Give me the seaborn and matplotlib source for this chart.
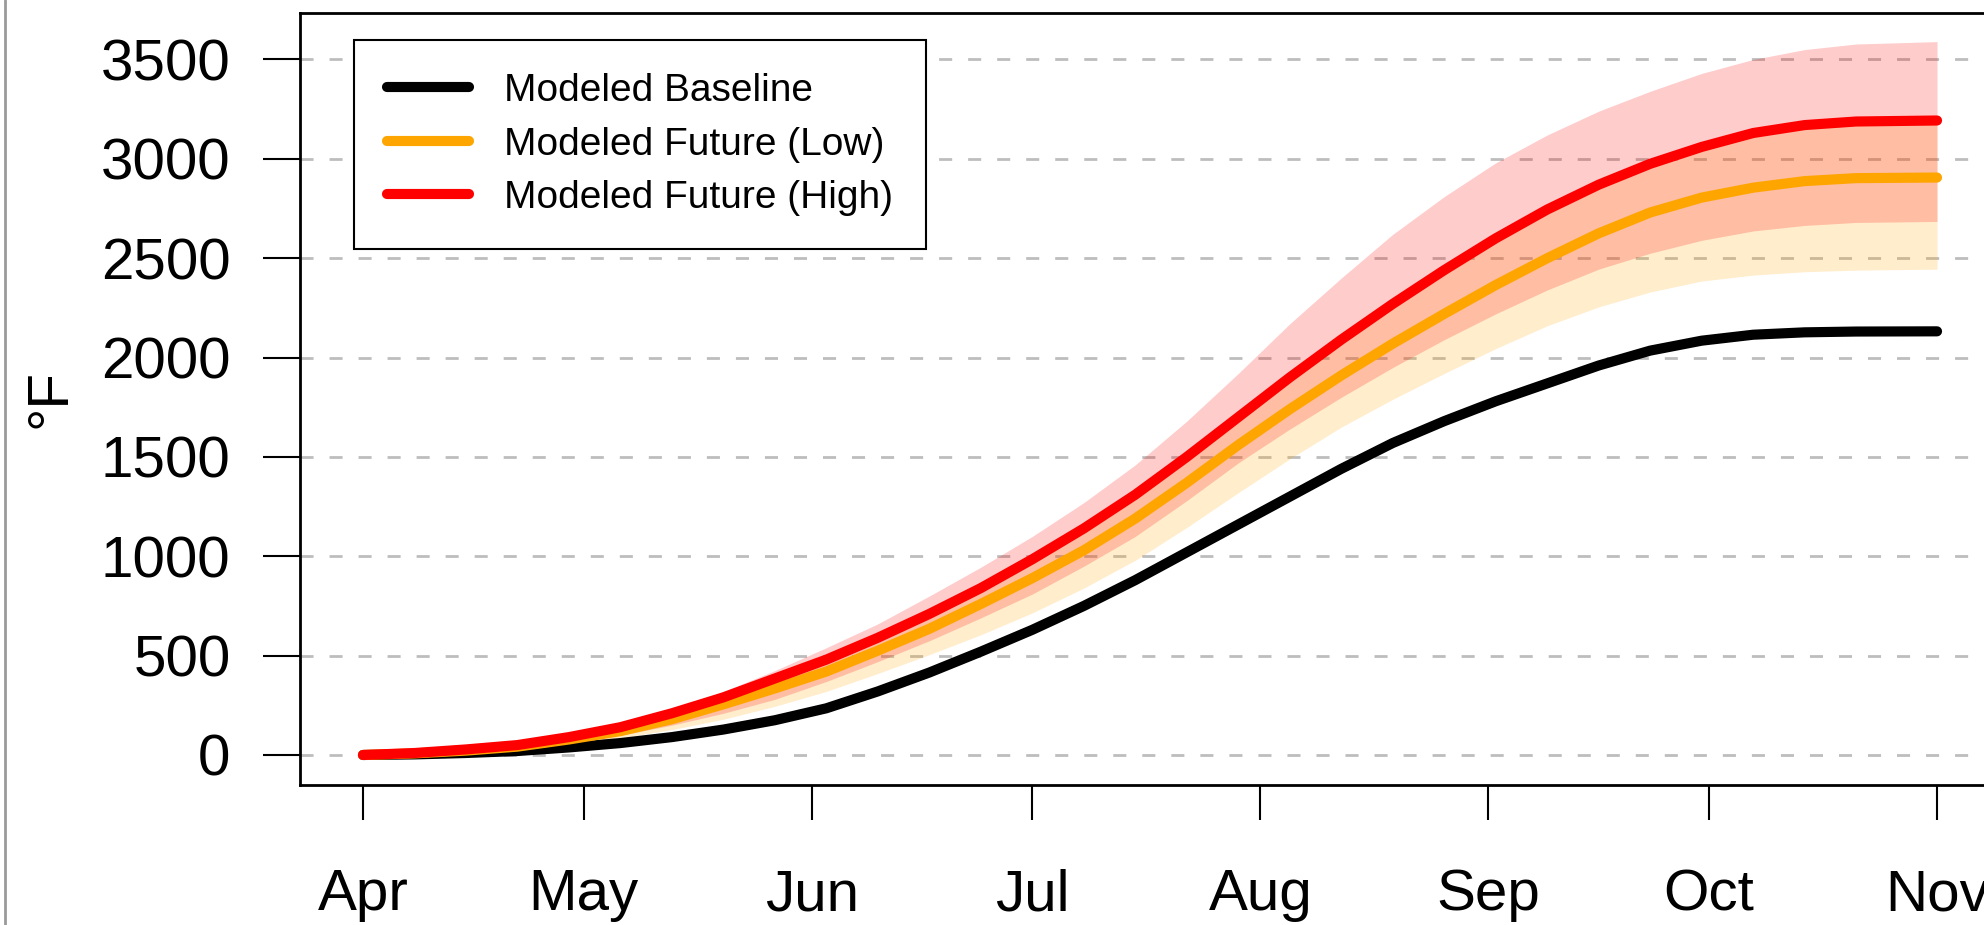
import matplotlib
matplotlib.use("Agg")
import matplotlib.pyplot as plt
from matplotlib.lines import Line2D
import seaborn as sns
import pandas as pd

# days since Apr 1
days = [0, 7, 14, 21, 28, 35, 42, 49, 56, 63, 70, 77, 84, 91, 98, 105, 112, 119, 126, 133,
        140, 147, 154, 161, 168, 175, 182, 189, 196, 203, 214]

baseline = [0, 3, 10, 20, 38, 60, 90, 128, 175, 235, 320, 415, 520, 630, 750, 880, 1020, 1160, 1300, 1440,
            1570, 1680, 1780, 1870, 1960, 2035, 2085, 2115, 2127, 2131, 2132]
future_low = [0, 8, 22, 42, 78, 120, 180, 255, 335, 420, 525, 635, 760, 890, 1030, 1190, 1370, 1560, 1740, 1910,
              2070, 2220, 2365, 2500, 2625, 2730, 2805, 2855, 2888, 2903, 2906]
future_high = [0, 10, 28, 50, 90, 140, 210, 290, 385, 480, 590, 710, 840, 985, 1140, 1310, 1500, 1700, 1900, 2090,
               2270, 2440, 2600, 2745, 2870, 2975, 3060, 3130, 3170, 3188, 3193]

low_lower = [0, 6, 17, 32, 55, 85, 128, 180, 245, 320, 410, 505, 605, 715, 840, 980, 1145, 1320, 1490, 1650,
             1790, 1920, 2045, 2160, 2255, 2330, 2385, 2415, 2432, 2440, 2445]
low_upper = [0, 10, 28, 50, 90, 140, 210, 290, 385, 480, 590, 710, 840, 985, 1140, 1310, 1500, 1700, 1900, 2090,
             2270, 2440, 2600, 2745, 2870, 2975, 3060, 3130, 3170, 3188, 3193]
high_lower = [0, 7, 20, 37, 66, 100, 150, 210, 280, 370, 470, 575, 690, 810, 950, 1100, 1280, 1470, 1640, 1800,
              1950, 2090, 2220, 2340, 2445, 2525, 2590, 2637, 2665, 2680, 2685]
high_upper = [0, 12, 32, 58, 100, 155, 230, 320, 425, 540, 660, 800, 945, 1100, 1270, 1460, 1680, 1920, 2170, 2400,
              2620, 2810, 2980, 3120, 3240, 3340, 3430, 3500, 3550, 3578, 3590]

month_days = [0, 30, 61, 91, 122, 153, 183, 214]
month_labels = ["Apr", "May", "Jun", "Jul", "Aug", "Sep", "Oct", "Nov"]
y_ticks = [0, 500, 1000, 1500, 2000, 2500, 3000, 3500]

series_names = ["Modeled Baseline", "Modeled Future (Low)", "Modeled Future (High)"]
colors = {"Modeled Baseline": "black",
          "Modeled Future (Low)": "#FFA500",
          "Modeled Future (High)": "#FF0000"}

df = pd.DataFrame({
    "day": days * 3,
    "gdd": baseline + future_low + future_high,
    "scenario": [series_names[0]] * len(days) + [series_names[1]] * len(days) + [series_names[2]] * len(days),
})

sns.set_theme(style="white")
sns.set_style("white", {"axes.edgecolor": "black", "text.color": "black",
                        "xtick.color": "black", "ytick.color": "black",
                        "axes.labelcolor": "black"})
plt.rcParams["font.family"] = ["Liberation Sans", "DejaVu Sans"]
plt.rcParams["lines.solid_capstyle"] = "round"
plt.rcParams["lines.solid_joinstyle"] = "round"

fig = plt.figure(figsize=(19.84, 9.25), dpi=100)
ax = fig.add_axes([300 / 1984, 1 - 785 / 925, 1700 / 1984, 772 / 925])

# uncertainty bands
ax.fill_between(days, low_lower, low_upper, color="#FFA500", alpha=0.2, lw=0)
ax.fill_between(days, high_lower, high_upper, color="#FF0000", alpha=0.2, lw=0)

sns.lineplot(data=df, x="day", y="gdd", hue="scenario", hue_order=series_names,
             palette=colors, linewidth=7.3, errorbar=None, legend=False, ax=ax)

ax.set_xlim(-8.56, 222.56)
ax.set_ylim(-151, 3734)
ax.set_xticks(month_days)
ax.set_xticklabels(month_labels)
ax.set_yticks(y_ticks)
ax.set_yticklabels([str(v) for v in y_ticks])
ax.set_xlabel("")
ax.set_ylabel("°F", fontsize=42)
ax.yaxis.set_label_coords(-0.147, 0.5)
ax.yaxis.label.set_va("center")

ax.set_axisbelow(True)
ax.yaxis.grid(True, color="#bdbdbd", linestyle=(0, (4.7, 5.75)), linewidth=2.0)
ax.xaxis.grid(False)

for sp in ax.spines.values():
    sp.set_visible(True)
    sp.set_color("black")
    sp.set_linewidth(2)

ax.tick_params(axis="x", direction="out", length=25, width=1.5, labelsize=42, pad=35, bottom=True)
ax.tick_params(axis="y", direction="out", length=27, width=1.5, labelsize=42, pad=23, left=True)

handles = [Line2D([], [], color=colors[n], lw=7.3, solid_capstyle="round") for n in series_names]
leg = ax.legend(handles, series_names, loc="upper left",
                bbox_to_anchor=(354 / 1984, 1 - 40 / 925), bbox_transform=fig.transFigure,
                borderaxespad=0, fontsize=28, frameon=True, fancybox=False,
                edgecolor="black", framealpha=1, handlelength=2.1,
                handletextpad=0.9, labelspacing=0.45, borderpad=0.85)
leg.get_frame().set_linewidth(1.5)

# thin page border on the left edge
fig.add_artist(Line2D([0.0025, 0.0025], [0, 1], transform=fig.transFigure, color="#9a9a9a", lw=2))

fig.savefig("out.png", dpi=100)
